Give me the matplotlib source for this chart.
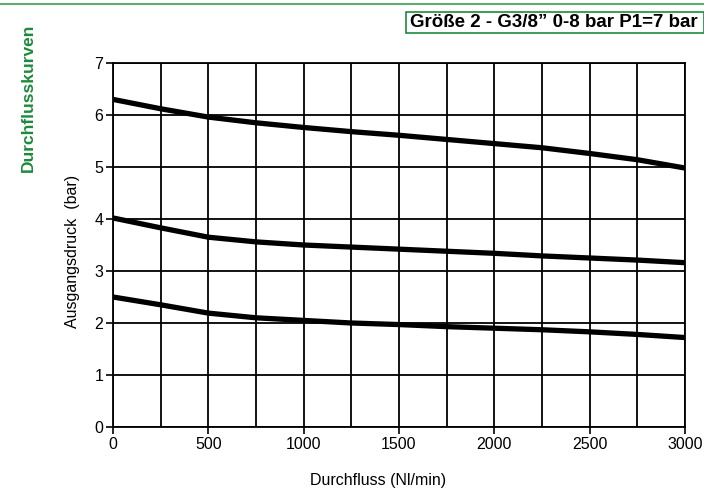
import matplotlib.pyplot as plt
from matplotlib.patches import Rectangle
from matplotlib.lines import Line2D

plt.rcParams['font.family'] = ['Liberation Sans', 'DejaVu Sans']

flow = [0, 250, 500, 750, 1000, 1250, 1500, 1750, 2000, 2250, 2500, 2750, 3000]
p_high = [6.3, 6.12, 5.96, 5.85, 5.76, 5.68, 5.61, 5.53, 5.45, 5.37, 5.26, 5.14, 4.98]
p_mid = [4.02, 3.83, 3.65, 3.56, 3.5, 3.46, 3.42, 3.38, 3.34, 3.29, 3.25, 3.21, 3.16]
p_low = [2.5, 2.35, 2.19, 2.1, 2.05, 2.0, 1.97, 1.93, 1.9, 1.87, 1.83, 1.78, 1.72]

xticks = [0, 500, 1000, 1500, 2000, 2500, 3000]
yticks = [0, 1, 2, 3, 4, 5, 6, 7]

green = '#1e8a3c'

fig = plt.figure(figsize=(7.04, 4.96), dpi=100)
ax = fig.add_axes([113 / 704, 1 - 427 / 496, 572 / 704, 364 / 496])

# grid every 250 / every 1 bar
for gx in range(0, 3001, 250):
    ax.axvline(gx, color='black', lw=1.3, zorder=1)
for gy in yticks:
    ax.axhline(gy, color='black', lw=1.3, zorder=1)

for p in (p_high, p_mid, p_low):
    ax.plot(flow, p, color='black', lw=3.8, solid_capstyle='round', zorder=3)

ax.set_xlim(0, 3000)
ax.set_ylim(0, 7)
ax.set_xticks(xticks)
ax.set_yticks(yticks)
ax.tick_params(labelsize=11.5, length=5, width=1.2, pad=2)
for s in ax.spines.values():
    s.set_linewidth(1.3)

ax.set_xlabel('Durchfluss (Nl/min)', fontsize=11.5)
ax.xaxis.set_label_coords((378 - 113) / 572, -(480 - 427) / 364)
ax.xaxis.label.set_va('center')
ax.set_ylabel('Ausgangsdruck  (bar)', fontsize=11.5)
ax.yaxis.set_label_coords(-(113 - 72) / 572, (427 - 251) / 364)
ax.yaxis.label.set_va('center')

# header decoration
fig.add_artist(Line2D([0, 1], [1 - 4 / 496, 1 - 4 / 496], color='#5fae6f', lw=1.5))
fig.add_artist(Rectangle((406 / 704, 1 - 33 / 496), 298 / 704, 21 / 496,
                         fill=False, edgecolor=green, lw=1.2))
fig.text(410 / 704, 1 - 22.5 / 496, 'Größe 2 - G3/8” 0-8 bar P1=7 bar',
         fontsize=13.5, fontweight='bold', va='center', ha='left')
fig.text(28 / 704, 1 - 98 / 496, 'Durchflusskurven', color=green,
         fontsize=12.5, fontweight='bold', rotation=90, va='center', ha='center')

fig.savefig('out.png', dpi=100)
